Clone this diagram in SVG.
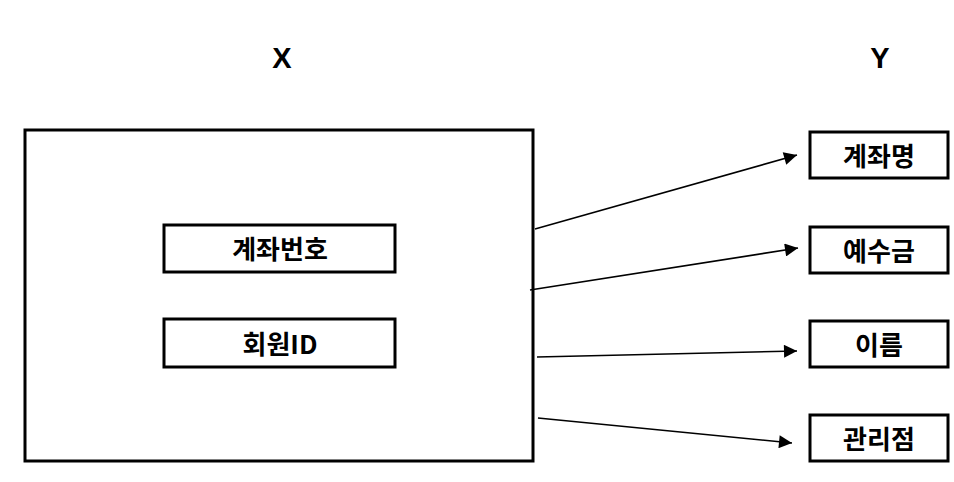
<svg xmlns="http://www.w3.org/2000/svg" width="954" height="482" viewBox="0 0 954 482">
<style>
.box{fill:#fff;stroke:#000;stroke-width:3}
.t{font-family:"Noto Sans CJK KR","Liberation Sans",sans-serif;font-weight:bold;font-size:26px;text-anchor:middle;dominant-baseline:central;fill:#000}
.h{font-family:"Liberation Sans","Noto Sans CJK KR",sans-serif;font-weight:bold;font-size:29px;text-anchor:middle;fill:#000}
.c{stroke:#000;stroke-width:1.6;fill:none;marker-end:url(#arr)}
</style>
<defs>
<marker id="arr" viewBox="0 0 10 10" refX="10" refY="5" markerWidth="16" markerHeight="13" markerUnits="userSpaceOnUse" orient="auto">
<path d="M0,0 L10,5 L0,10 z" fill="#000"/>
</marker>
</defs>
<text class="h" x="282" y="68">X</text>
<text class="h" x="880" y="68">Y</text>
<g id="x-box"><rect class="box" x="25" y="130" width="508" height="331"/></g>
<g id="n-account-no"><rect class="box" x="164" y="225" width="231" height="47"/><text class="t" x="280" y="247">계좌번호</text></g>
<g id="n-member-id"><rect class="box" x="164" y="319" width="231" height="48"/><text class="t" x="280" y="342">회원ID</text></g>
<g id="n-account-name"><rect class="box" x="810" y="132" width="138" height="46"/><text class="t" x="879" y="154">계좌명</text></g>
<g id="n-deposit"><rect class="box" x="810" y="227" width="138" height="46"/><text class="t" x="879" y="249">예수금</text></g>
<g id="n-name"><rect class="box" x="810" y="321" width="138" height="46"/><text class="t" x="879" y="343">이름</text></g>
<g id="n-branch"><rect class="box" x="810" y="415" width="138" height="46"/><text class="t" x="879" y="437">관리점</text></g>
<g id="connectors">
<line class="c" x1="535" y1="229" x2="797" y2="155"/>
<line class="c" x1="530" y1="290" x2="798" y2="248"/>
<line class="c" x1="537" y1="357" x2="797" y2="351"/>
<line class="c" x1="538" y1="418" x2="792" y2="443"/>
</g>
</svg>
